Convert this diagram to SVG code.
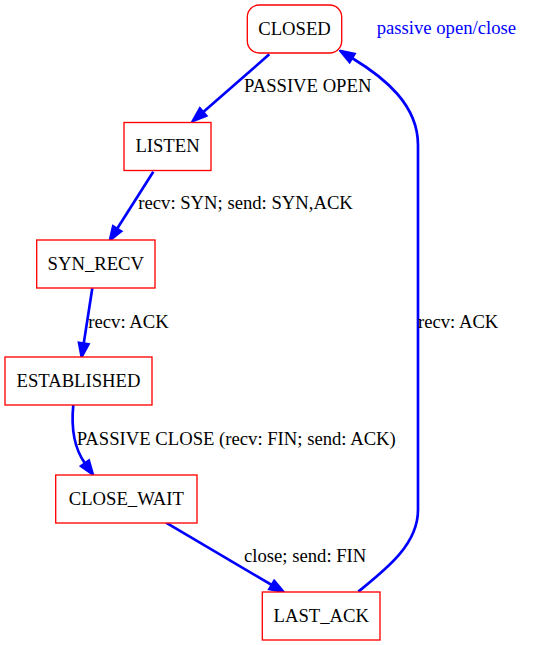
<svg xmlns="http://www.w3.org/2000/svg" width="535" height="645" viewBox="0 0 535 645">
<style>
.node rect{fill:#ffffff;stroke:#ff0000;stroke-width:1.33}
.edge path{fill:none;stroke:#0000ff;stroke-width:2.67;marker-end:url(#arr)}
</style>
<defs>
<marker id="arr" markerUnits="userSpaceOnUse" viewBox="-2 -7 17 14" markerWidth="17" markerHeight="14" refX="0" refY="0" orient="auto">
<path d="M0,-4.7 L13.3,0 L0,4.7 Z" fill="#0000ff" stroke="#0000ff" stroke-width="2.67"/>
</marker>
</defs>
<rect width="535" height="645" fill="#ffffff"/>
<g id="edges" class="edge">
<path d="M269.3,54.3 L203,112.2"/>
<path d="M153.3,171.7 L117.1,228.8"/>
<path d="M92.3,288.3 L83.7,343.6"/>
<path d="M73.3,405 C71,428 74,448 85,463.4"/>
<path d="M166,522.7 L271.8,585"/>
<path d="M358.3,591.7 C385,570 418,545 418,510 L418,145 C418,105 385,78 352,58"/>
</g>
<g id="edge-labels" font-family="'Liberation Serif', 'Times New Roman', serif" font-size="18.67" fill="#000000">
<text x="244" y="92">PASSIVE OPEN</text>
<text x="138.3" y="209">recv: SYN; send: SYN,ACK</text>
<text x="88.3" y="328">recv: ACK</text>
<text x="76.7" y="445">PASSIVE CLOSE (recv: FIN; send: ACK)</text>
<text x="244" y="562">close; send: FIN</text>
<text x="418" y="328">recv: ACK</text>
</g>
<g id="legend" font-family="'Liberation Serif', 'Times New Roman', serif" font-size="18.67" fill="#0000ff">
<text x="376.7" y="34">passive open/close</text>
</g>
<g font-family="'Liberation Serif', 'Times New Roman', serif" font-size="18.67" fill="#000000" text-anchor="middle">
<g id="CLOSED" class="node">
<rect x="247.3" y="5" width="94.4" height="48" rx="12" ry="12"/>
<text x="294.5" y="34.6">CLOSED</text>
</g>
<g id="LISTEN" class="node">
<rect x="124" y="122.5" width="87" height="48"/>
<text x="167.5" y="152.1">LISTEN</text>
</g>
<g id="SYN_RECV" class="node">
<rect x="36.7" y="240" width="118.3" height="48"/>
<text x="95.8" y="269.6">SYN_RECV</text>
</g>
<g id="ESTABLISHED" class="node">
<rect x="5" y="357" width="147" height="48"/>
<text x="78.5" y="386.6">ESTABLISHED</text>
</g>
<g id="CLOSE_WAIT" class="node">
<rect x="55.7" y="475" width="141.3" height="48"/>
<text x="126.3" y="504.6">CLOSE_WAIT</text>
</g>
<g id="LAST_ACK" class="node">
<rect x="262.3" y="592" width="117.7" height="48"/>
<text x="321.2" y="621.6">LAST_ACK</text>
</g>
</g>
</svg>
